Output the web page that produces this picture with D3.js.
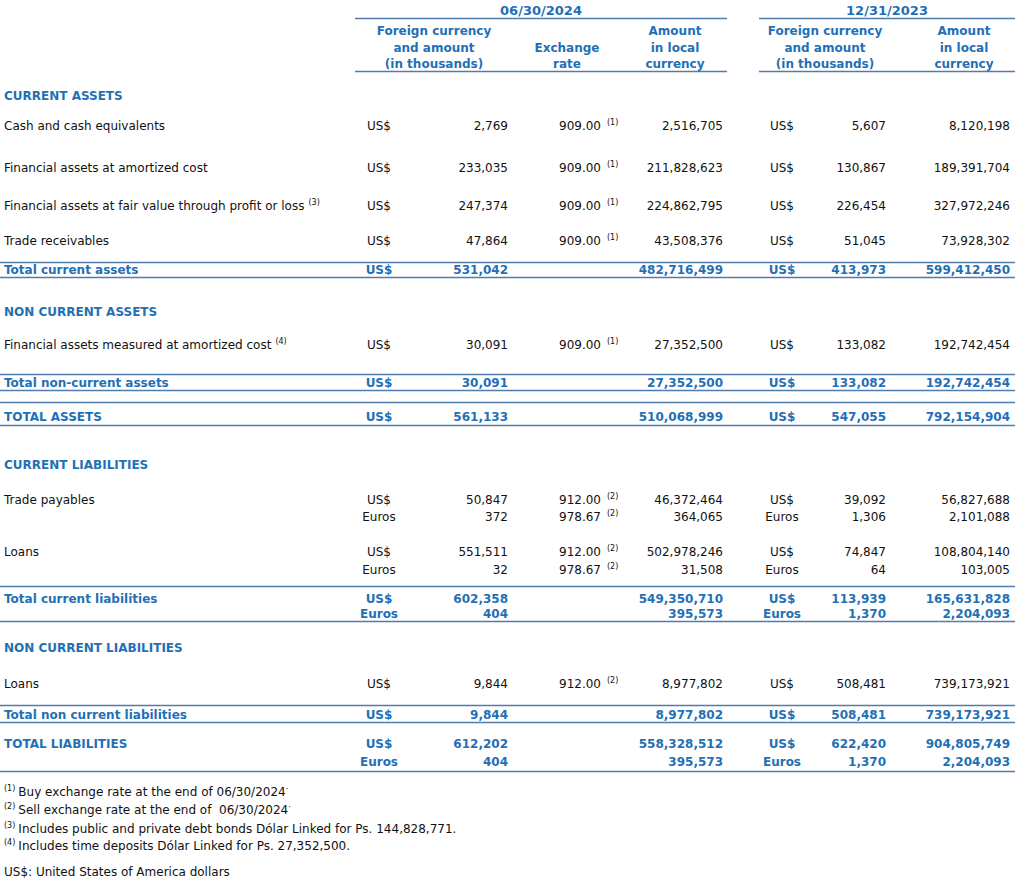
<!DOCTYPE html>
<html>
<head>
<meta charset="utf-8">
<script src="https://cdn.jsdelivr.net/npm/d3@7"></script>
<style>
  html, body { margin: 0; padding: 0; background: #fff; }
  svg { display: block; }
  text { font-family: "DejaVu Sans", Verdana, sans-serif; }
</style>
</head>
<body>
<div id="chart"></div>
<script>
// ---------------- DATA ----------------
const periodTitles = ["06/30/2024", "12/31/2023"];
const headerForeign = ["Foreign currency", "and amount", "(in thousands)"];
const headerRate = ["Exchange", "rate"];
const headerLocal = ["Amount", "in local", "currency"];

const rowLabels = [
  "CURRENT ASSETS", "Cash and cash equivalents", "Financial assets at amortized cost",
  "Financial assets at fair value through profit or loss", "Trade receivables", "Total current assets",
  "NON CURRENT ASSETS", "Financial assets measured at amortized cost", "Total non-current assets",
  "TOTAL ASSETS", "CURRENT LIABILITIES", "Trade payables", "", "Loans", "",
  "Total current liabilities", "", "NON CURRENT LIABILITIES", "Loans",
  "Total non current liabilities", "TOTAL LIABILITIES", ""
];
const rowKinds = [
  "section", "item", "item", "item", "item", "total",
  "section", "item", "total", "total", "section", "item", "item", "item", "item",
  "total", "total", "section", "item", "total", "total", "total"
];
const labelNotes = [null, null, null, 3, null, null, null, 4, null, null, null, null, null, null, null, null, null, null, null, null, null, null];

const currency2024 = [null, "US$", "US$", "US$", "US$", "US$", null, "US$", "US$", "US$", null, "US$", "Euros", "US$", "Euros", "US$", "Euros", null, "US$", "US$", "US$", "Euros"];
const foreign2024 = [null, 2769, 233035, 247374, 47864, 531042, null, 30091, 30091, 561133, null, 50847, 372, 551511, 32, 602358, 404, null, 9844, 9844, 612202, 404];
const rate2024 = [null, 909.00, 909.00, 909.00, 909.00, null, null, 909.00, null, null, null, 912.00, 978.67, 912.00, 978.67, null, null, null, 912.00, null, null, null];
const rateNotes = [null, 1, 1, 1, 1, null, null, 1, null, null, null, 2, 2, 2, 2, null, null, null, 2, null, null, null];
const local2024 = [null, 2516705, 211828623, 224862795, 43508376, 482716499, null, 27352500, 27352500, 510068999, null, 46372464, 364065, 502978246, 31508, 549350710, 395573, null, 8977802, 8977802, 558328512, 395573];

const currency2023 = [null, "US$", "US$", "US$", "US$", "US$", null, "US$", "US$", "US$", null, "US$", "Euros", "US$", "Euros", "US$", "Euros", null, "US$", "US$", "US$", "Euros"];
const foreign2023 = [null, 5607, 130867, 226454, 51045, 413973, null, 133082, 133082, 547055, null, 39092, 1306, 74847, 64, 113939, 1370, null, 508481, 508481, 622420, 1370];
const local2023 = [null, 8120198, 189391704, 327972246, 73928302, 599412450, null, 192742454, 192742454, 792154904, null, 56827688, 2101088, 108804140, 103005, 165631828, 2204093, null, 739173921, 739173921, 904805749, 2204093];

const footnoteMarks = ["(1)", "(2)", "(3)", "(4)"];
const footnoteTexts = [
  "Buy exchange rate at the end of 06/30/2024",
  "Sell exchange rate at the end of  06/30/2024",
  "Includes public and private debt bonds Dólar Linked for Ps. 144,828,771.",
  "Includes time deposits Dólar Linked for Ps. 27,352,500."
];
const footnoteTrail = ["·", "·", "", ""];
const currencyNote = "US$: United States of America dollars";

// ---------------- LAYOUT ----------------
const W = 1016, H = 881;
const BLUE = "#1f70b6", LINE = "#4f7cab", BLACK = "#111";
const FS = 12;

const svg = d3.select("#chart").append("svg").attr("width", W).attr("height", H);

// column positions
const colKeys = ["label", "cur24", "fc24", "rate24", "local24", "cur23", "fc23", "local23"];
const colX = d3.scaleOrdinal().domain(colKeys).range([4, 379, 508, 601, 723, 782, 886, 1010]);

// row vertical positions (center of text line) from cumulative gaps
const rowGaps = [0, 30, 42, 38, 35, 29, 42, 33, 38, 34, 48, 35, 17, 35, 18, 29, 15, 34, 36, 31, 29, 18];
const rowCenters = d3.cumsum(rowGaps).map(v => v + 95);
const rowIndex = d3.range(rowLabels.length);
const y = d3.scaleOrdinal().domain(rowIndex).range(rowCenters);
const base = i => y(i) + 4.5;

const intFmt = d3.format(",");
const rateFmt = d3.format(".2f");

// ---- header ----
const periods = [
  { title: periodTitles[0], x0: 355, x1: 727 },
  { title: periodTitles[1], x0: 759, x1: 1015 }
];
const hdr = svg.append("g");
hdr.selectAll("text.period").data(periods).join("text")
  .attr("class", "period")
  .attr("x", d => (d.x0 + d.x1) / 2).attr("y", 15)
  .attr("text-anchor", "middle").attr("font-size", 13).attr("font-weight", "bold")
  .attr("fill", BLUE).text(d => d.title);
hdr.selectAll("line.ptop").data(periods).join("line")
  .attr("x1", d => d.x0).attr("x2", d => d.x1).attr("y1", 18.5).attr("y2", 18.5)
  .attr("stroke", LINE).attr("stroke-width", 1.3);
hdr.selectAll("line.pbot").data(periods).join("line")
  .attr("x1", d => d.x0).attr("x2", d => d.x1).attr("y1", 71.5).attr("y2", 71.5)
  .attr("stroke", LINE).attr("stroke-width", 1.3);

const headerBlocks = [
  { x: 434, lines: headerForeign, start: 0 },
  { x: 567, lines: headerRate, start: 1 },
  { x: 675, lines: headerLocal, start: 0 },
  { x: 825, lines: headerForeign, start: 0 },
  { x: 964, lines: headerLocal, start: 0 }
];
headerBlocks.forEach(b => {
  hdr.append("g").selectAll("text").data(b.lines).join("text")
    .attr("x", b.x).attr("y", (d, i) => 35 + (i + b.start) * 16.5)
    .attr("text-anchor", "middle").attr("font-size", FS).attr("font-weight", "bold")
    .attr("fill", BLUE).text(d => d);
});

// ---- rules under totals ----
const rules = [
  [5, -7], [5, 8], [8, -8], [8, 8], [9, -14], [9, 9],
  [15, -12], [16, 8], [19, -9], [19, 8], [21, 10]
];
svg.append("g").selectAll("line").data(rules).join("line")
  .attr("x1", 0).attr("x2", 1015)
  .attr("y1", d => Math.round(y(d[0]) + d[1]) + 0.5)
  .attr("y2", d => Math.round(y(d[0]) + d[1]) + 0.5)
  .attr("stroke", LINE).attr("stroke-width", 1.3);

// ---- body rows ----
const isBlue = i => rowKinds[i] !== "item";
const isBold = i => rowKinds[i] !== "item";
const body = svg.append("g");

function cell(key, values, fmt, anchor) {
  body.append("g").selectAll("text")
    .data(rowIndex.filter(i => values[i] !== null && values[i] !== ""))
    .join("text")
    .attr("x", colX(key)).attr("y", i => base(i))
    .attr("text-anchor", anchor)
    .attr("font-size", FS)
    .attr("font-weight", i => isBold(i) ? "bold" : "normal")
    .attr("fill", i => isBlue(i) ? BLUE : BLACK)
    .text(i => fmt(values[i]));
}

// labels with optional superscript notes
const lab = body.append("g").selectAll("text")
  .data(rowIndex.filter(i => rowLabels[i] !== ""))
  .join("text")
  .attr("x", colX("label")).attr("y", i => base(i))
  .attr("font-size", FS)
  .attr("font-weight", i => isBold(i) ? "bold" : "normal")
  .attr("fill", i => isBlue(i) ? BLUE : BLACK);
lab.append("tspan").text(i => rowLabels[i]);
lab.filter(i => labelNotes[i] !== null).append("tspan")
  .attr("font-size", 8).attr("dx", 4).attr("dy", -5)
  .text(i => "(" + labelNotes[i] + ")");

cell("cur24", currency2024, d => d, "middle");
cell("fc24", foreign2024, intFmt, "end");
cell("rate24", rate2024, rateFmt, "end");
cell("local24", local2024, intFmt, "end");
cell("cur23", currency2023, d => d, "middle");
cell("fc23", foreign2023, intFmt, "end");
cell("local23", local2023, intFmt, "end");

// exchange-rate superscripts
body.append("g").selectAll("text")
  .data(rowIndex.filter(i => rateNotes[i] !== null))
  .join("text")
  .attr("x", colX("rate24") + 6).attr("y", i => base(i) - 5)
  .attr("font-size", 8).attr("fill", BLACK)
  .text(i => "(" + rateNotes[i] + ")");

// ---- footnotes ----
const fnGaps = [0, 18, 19, 17];
const fnY = d3.cumsum(fnGaps).map(v => v + 791);
const fn = svg.append("g").selectAll("text").data(footnoteTexts).join("text")
  .attr("x", 4).attr("y", (d, i) => fnY[i] + 4.5)
  .attr("font-size", FS).attr("fill", BLACK).attr("xml:space", "preserve");
fn.append("tspan").attr("font-size", 8).attr("dy", -5).text((d, i) => footnoteMarks[i]);
fn.append("tspan").attr("dx", 3).attr("dy", 5).text(d => d);
fn.append("tspan").attr("font-size", 8).attr("dy", -4).text((d, i) => footnoteTrail[i]);

svg.append("text").attr("x", 4).attr("y", 871 + 4.5)
  .attr("font-size", FS).attr("fill", BLACK).text(currencyNote);
</script>
</body>
</html>
